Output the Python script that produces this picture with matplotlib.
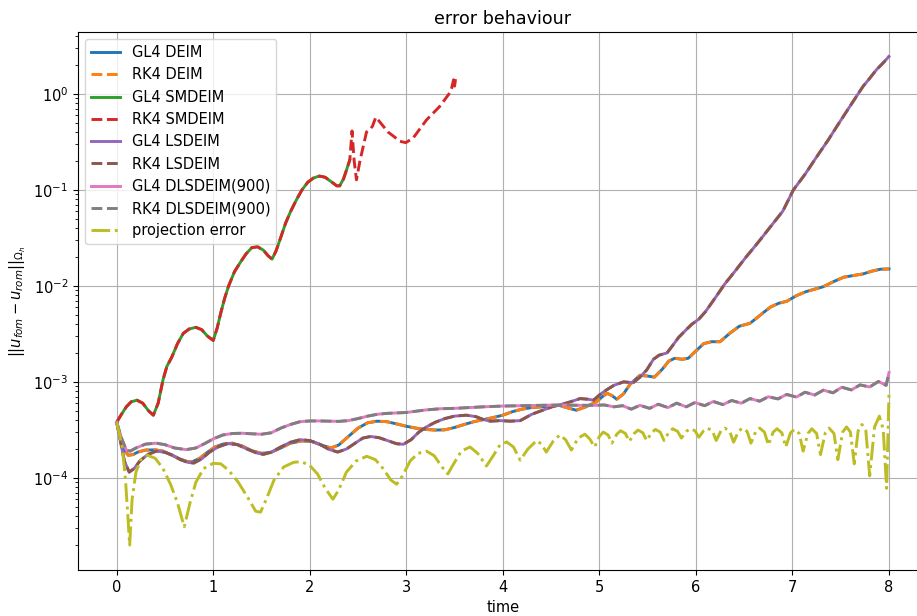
import matplotlib
matplotlib.use("Agg")
from matplotlib import pyplot as plt

# DEIM (GL4 and RK4 agree)
t_deim = [0.00, 0.04, 0.08, 0.12, 0.17, 0.22, 0.30, 0.40, 0.48, 0.56, 0.64, 0.72, 0.78,
          0.86, 0.94, 1.02, 1.10, 1.20, 1.30, 1.40, 1.50, 1.60, 1.70, 1.80, 1.92, 2.02,
          2.12, 2.22, 2.30, 2.40, 2.50, 2.60, 2.70, 2.80, 2.90, 3.00, 3.10, 3.20, 3.30,
          3.40, 3.50, 3.60, 3.70, 3.80, 3.90, 4.00, 4.10, 4.20, 4.30, 4.40, 4.50, 4.58,
          4.66, 4.76, 4.86, 4.97, 5.03, 5.08, 5.13, 5.18, 5.25, 5.32, 5.42, 5.50, 5.57,
          5.65, 5.72, 5.78, 5.86, 5.92, 6.00, 6.08, 6.16, 6.25, 6.35, 6.45, 6.56, 6.66,
          6.77, 6.86, 6.94, 7.04, 7.14, 7.24, 7.32, 7.42, 7.53, 7.63, 7.73, 7.82, 7.91, 8.00]
e_deim = [3.8e-4, 2.7e-4, 1.95e-4, 1.72e-4, 1.75e-4, 1.86e-4, 1.95e-4, 1.96e-4, 1.9e-4,
          1.75e-4, 1.6e-4, 1.49e-4, 1.47e-4, 1.6e-4, 1.85e-4, 2.1e-4, 2.25e-4, 2.3e-4,
          2.15e-4, 1.92e-4, 1.8e-4, 1.85e-4, 2.05e-4, 2.3e-4, 2.43e-4, 2.4e-4, 2.2e-4,
          2.05e-4, 2.2e-4, 2.7e-4, 3.3e-4, 3.75e-4, 3.9e-4, 3.85e-4, 3.65e-4, 3.45e-4,
          3.3e-4, 3.2e-4, 3.15e-4, 3.17e-4, 3.35e-4, 3.6e-4, 3.85e-4, 4.05e-4, 4.25e-4,
          4.5e-4, 4.9e-4, 5.2e-4, 5.4e-4, 5.5e-4, 5.6e-4, 5.7e-4, 5.4e-4, 5.07e-4, 5.5e-4,
          6.2e-4, 7.0e-4, 7.6e-4, 7.2e-4, 6.6e-4, 7.5e-4, 9.5e-4, 1.17e-3, 1.15e-3, 1.12e-3,
          1.35e-3, 1.65e-3, 1.76e-3, 1.72e-3, 1.76e-3, 2.1e-3, 2.5e-3, 2.62e-3, 2.62e-3,
          3.2e-3, 3.8e-3, 4.07e-3, 4.9e-3, 6.0e-3, 6.6e-3, 6.9e-3, 7.9e-3, 8.7e-3, 9.3e-3,
          9.8e-3, 1.1e-2, 1.23e-2, 1.28e-2, 1.33e-2, 1.42e-2, 1.49e-2, 1.5e-2]

# SMDEIM (GL4 stops at t ~ 2.41, RK4 runs on to 3.5)
t_smdeim = [0.00, 0.05, 0.10, 0.15, 0.21, 0.27, 0.33, 0.38, 0.43, 0.48, 0.52, 0.57, 0.63,
            0.69, 0.75, 0.82, 0.88, 0.94, 1.00, 1.04, 1.08, 1.12, 1.16, 1.22, 1.28, 1.34,
            1.40, 1.46, 1.52, 1.57, 1.61, 1.65, 1.70, 1.75, 1.80, 1.86, 1.92, 1.98, 2.04,
            2.10, 2.16, 2.22, 2.28, 2.31, 2.35, 2.38, 2.415, 2.438, 2.46, 2.484, 2.52,
            2.553, 2.588, 2.62, 2.65, 2.684, 2.725, 2.81, 2.87, 2.933, 2.995, 3.07, 3.21,
            3.347, 3.45, 3.47, 3.49, 3.50, 3.51]
e_smdeim = [3.8e-4, 4.6e-4, 5.5e-4, 6.2e-4, 6.45e-4, 6.0e-4, 5.0e-4, 4.5e-4, 6.0e-4,
            1.05e-3, 1.45e-3, 1.8e-3, 2.5e-3, 3.2e-3, 3.55e-3, 3.7e-3, 3.5e-3, 3.0e-3,
            2.7e-3, 3.6e-3, 5.3e-3, 7.5e-3, 1.0e-2, 1.4e-2, 1.75e-2, 2.15e-2, 2.5e-2,
            2.55e-2, 2.35e-2, 2.05e-2, 1.9e-2, 2.3e-2, 3.2e-2, 4.5e-2, 5.9e-2, 7.8e-2,
            1.0e-1, 1.2e-1, 1.33e-1, 1.39e-1, 1.35e-1, 1.22e-1, 1.1e-1, 1.1e-1, 1.3e-1,
            1.6e-1, 2.05e-1, 4.1e-1, 2.0e-1, 1.27e-1, 2.0e-1, 2.8e-1, 4.0e-1, 4.2e-1,
            4.6e-1, 5.7e-1, 5.1e-1, 4.0e-1, 3.6e-1, 3.2e-1, 3.1e-1, 3.45e-1, 5.35e-1,
            7.4e-1, 1.02, 1.15, 1.4, 1.2, 1.42]
n_gl4_smdeim = 47

# LSDEIM (GL4 and RK4 agree)
t_lsdeim = [0.00, 0.04, 0.08, 0.13, 0.18, 0.24, 0.32, 0.41, 0.50, 0.58, 0.66, 0.74, 0.80,
            0.88, 0.96, 1.05, 1.15, 1.25, 1.35, 1.45, 1.52, 1.60, 1.70, 1.80, 1.90, 2.00,
            2.10, 2.20, 2.29, 2.38, 2.47, 2.55, 2.63, 2.72, 2.82, 2.90, 2.97, 3.05, 3.13,
            3.21, 3.30, 3.40, 3.50, 3.62, 3.72, 3.80, 3.87, 3.97, 4.08, 4.18, 4.30, 4.42,
            4.52, 4.59, 4.70, 4.80, 4.88, 4.94, 5.00, 5.07, 5.15, 5.25, 5.35, 5.42, 5.49,
            5.56, 5.62, 5.70, 5.76, 5.82, 5.90, 5.96, 6.03, 6.10, 6.20, 6.30, 6.40, 6.52,
            6.64, 6.77, 6.90, 7.01, 7.13, 7.25, 7.37, 7.49, 7.61, 7.73, 7.80, 7.87, 7.94, 8.00]
e_lsdeim = [3.8e-4, 2.4e-4, 1.5e-4, 1.15e-4, 1.25e-4, 1.5e-4, 1.75e-4, 1.9e-4, 1.85e-4,
            1.72e-4, 1.55e-4, 1.45e-4, 1.43e-4, 1.58e-4, 1.85e-4, 2.1e-4, 2.28e-4, 2.22e-4,
            2.0e-4, 1.82e-4, 1.76e-4, 1.85e-4, 2.1e-4, 2.35e-4, 2.5e-4, 2.45e-4, 2.25e-4,
            1.98e-4, 1.86e-4, 2.0e-4, 2.3e-4, 2.6e-4, 2.7e-4, 2.62e-4, 2.42e-4, 2.27e-4,
            2.24e-4, 2.5e-4, 3.0e-4, 3.4e-4, 3.8e-4, 4.15e-4, 4.4e-4, 4.5e-4, 4.35e-4,
            4.05e-4, 3.9e-4, 3.95e-4, 3.9e-4, 3.95e-4, 4.6e-4, 5.1e-4, 5.55e-4, 5.75e-4,
            6.2e-4, 6.7e-4, 6.6e-4, 6.45e-4, 7.3e-4, 8.2e-4, 9.2e-4, 1.0e-3, 9.8e-4, 1.12e-3,
            1.33e-3, 1.72e-3, 1.9e-3, 2.0e-3, 2.4e-3, 2.9e-3, 3.5e-3, 4.0e-3, 4.5e-3, 5.4e-3,
            7.5e-3, 1.05e-2, 1.4e-2, 2.0e-2, 2.8e-2, 4.1e-2, 6.0e-2, 0.1, 0.145, 0.22, 0.33,
            0.51, 0.78, 1.19, 1.45, 1.78, 2.1, 2.45]

# DLSDEIM(900) (GL4 and RK4 agree)
t_dlsdeim = [0.00, 0.05, 0.10, 0.14, 0.20, 0.30, 0.41, 0.50, 0.60, 0.72, 0.82, 0.92, 1.00,
             1.10, 1.20, 1.30, 1.40, 1.50, 1.60, 1.70, 1.80, 1.90, 2.00, 2.10, 2.20, 2.30,
             2.40, 2.50, 2.60, 2.70, 2.80, 2.90, 3.00, 3.10, 3.20, 3.35, 3.50, 3.65, 3.80,
             3.90, 4.00, 4.20, 4.40, 4.60, 4.80, 4.95, 5.05, 5.15, 5.24, 5.33, 5.42, 5.52,
             5.61, 5.71, 5.80, 5.90, 5.99, 6.09, 6.18, 6.28, 6.37, 6.47, 6.56, 6.66, 6.75,
             6.85, 6.94, 7.04, 7.13, 7.23, 7.32, 7.42, 7.51, 7.61, 7.70, 7.80, 7.89, 7.97, 8.00]
e_dlsdeim = [3.8e-4, 2.6e-4, 1.95e-4, 1.9e-4, 2.05e-4, 2.25e-4, 2.3e-4, 2.22e-4, 2.05e-4,
             1.97e-4, 2.05e-4, 2.3e-4, 2.55e-4, 2.8e-4, 2.9e-4, 2.92e-4, 2.88e-4, 2.85e-4,
             2.95e-4, 3.3e-4, 3.6e-4, 3.85e-4, 3.92e-4, 3.92e-4, 3.9e-4, 3.88e-4, 3.95e-4,
             4.15e-4, 4.4e-4, 4.6e-4, 4.7e-4, 4.75e-4, 4.8e-4, 4.95e-4, 5.1e-4, 5.25e-4,
             5.3e-4, 5.4e-4, 5.5e-4, 5.55e-4, 5.6e-4, 5.65e-4, 5.7e-4, 5.75e-4, 5.7e-4,
             5.7e-4, 5.75e-4, 5.5e-4, 5.65e-4, 5.2e-4, 5.7e-4, 5.3e-4, 5.85e-4, 5.4e-4,
             6.0e-4, 5.5e-4, 6.1e-4, 5.65e-4, 6.25e-4, 5.8e-4, 6.4e-4, 6.0e-4, 6.7e-4,
             6.3e-4, 7.0e-4, 6.65e-4, 7.4e-4, 6.95e-4, 7.8e-4, 7.3e-4, 8.2e-4, 7.7e-4,
             8.8e-4, 8.25e-4, 9.3e-4, 8.85e-4, 1.01e-3, 9.2e-4, 1.25e-3]

# projection error
t_proj = [0.00, 0.03, 0.06, 0.09, 0.11, 0.135, 0.16, 0.20, 0.25, 0.32, 0.40, 0.48, 0.56,
          0.63, 0.70, 0.76, 0.82, 0.90, 1.00, 1.08, 1.16, 1.26, 1.36, 1.44, 1.49, 1.55,
          1.63, 1.73, 1.83, 1.91, 2.00, 2.08, 2.16, 2.24, 2.30, 2.38, 2.48, 2.59, 2.68,
          2.76, 2.84, 2.90, 2.96, 3.04, 3.12, 3.21, 3.29, 3.37, 3.43, 3.49, 3.57, 3.66,
          3.74, 3.83, 3.90, 3.97, 4.04, 4.11, 4.18, 4.26, 4.35, 4.40, 4.45, 4.52, 4.59,
          4.65, 4.71, 4.78, 4.85, 4.90, 4.95, 5.00, 5.04, 5.09, 5.13, 5.18, 5.22, 5.27,
          5.31, 5.36, 5.40, 5.45, 5.49, 5.54, 5.58, 5.63, 5.67, 5.72, 5.76, 5.81, 5.85,
          5.90, 5.94, 5.99, 6.03, 6.08, 6.12, 6.17, 6.21, 6.26, 6.30, 6.35, 6.39, 6.44,
          6.48, 6.53, 6.57, 6.62, 6.66, 6.71, 6.75, 6.80, 6.84, 6.89, 6.93, 6.98, 7.02,
          7.07, 7.11, 7.16, 7.20, 7.25, 7.29, 7.34, 7.38, 7.43, 7.47, 7.52, 7.56, 7.60,
          7.64, 7.68, 7.72, 7.76, 7.80, 7.85, 7.90, 7.94, 7.975, 8.00]
e_proj = [3.8e-4, 2.8e-4, 2.0e-4, 1.0e-4, 5.0e-5, 2.0e-5, 6.0e-5, 1.15e-4, 1.55e-4,
          1.72e-4, 1.6e-4, 1.25e-4, 8.5e-5, 5.5e-5, 3.1e-5, 5.5e-5, 9.0e-5, 1.25e-4,
          1.42e-4, 1.4e-4, 1.2e-4, 9.0e-5, 6.2e-5, 4.5e-5, 4.4e-5, 6.0e-5, 9.5e-5, 1.3e-4,
          1.45e-4, 1.48e-4, 1.35e-4, 1.1e-4, 7.8e-5, 6.0e-5, 7.5e-5, 1.15e-4, 1.5e-4,
          1.68e-4, 1.55e-4, 1.25e-4, 9.5e-5, 8.6e-5, 1.05e-4, 1.5e-4, 1.8e-4, 1.9e-4,
          1.7e-4, 1.3e-4, 1.1e-4, 1.4e-4, 1.9e-4, 2.1e-4, 1.8e-4, 1.33e-4, 1.7e-4, 2.2e-4,
          2.37e-4, 2.1e-4, 1.53e-4, 2.0e-4, 2.45e-4, 2.25e-4, 1.86e-4, 2.4e-4, 2.8e-4,
          2.5e-4, 1.95e-4, 2.6e-4, 2.85e-4, 2.55e-4, 2.1e-4, 2.7e-4, 3.0e-4, 2.8e-4,
          2.3e-4, 2.85e-4, 3.1e-4, 2.9e-4, 2.4e-4, 2.9e-4, 3.15e-4, 2.95e-4, 2.45e-4,
          2.95e-4, 3.2e-4, 3.0e-4, 2.45e-4, 3.0e-4, 3.25e-4, 3.05e-4, 2.6e-4, 3.05e-4,
          3.25e-4, 3.1e-4, 2.65e-4, 3.1e-4, 3.3e-4, 3.1e-4, 2.45e-4, 3.1e-4, 3.3e-4,
          3.05e-4, 2.35e-4, 3.05e-4, 3.3e-4, 3.05e-4, 2.3e-4, 3.05e-4, 3.3e-4, 3.0e-4,
          2.2e-4, 3.0e-4, 3.25e-4, 2.95e-4, 2.1e-4, 2.95e-4, 3.2e-4, 2.9e-4, 1.9e-4,
          2.9e-4, 3.25e-4, 2.9e-4, 1.75e-4, 2.95e-4, 3.3e-4, 2.9e-4, 1.55e-4, 3.0e-4,
          3.4e-4, 3.0e-4, 1.4e-4, 3.1e-4, 3.6e-4, 3.1e-4, 1.05e-4, 3.4e-4, 4.4e-4, 3.2e-4,
          7.8e-5, 7.8e-4]

plt.rcParams['font.size'] = 10.5
lw = 2.1

fig = plt.figure(figsize=(9.17, 6.16), dpi=100)
ax = fig.add_axes([0.0851, 0.0747, 0.9265, 0.8734])

ax.semilogy(t_deim, e_deim, '-', lw=lw, label='GL4 DEIM')
ax.semilogy(t_deim, e_deim, '--', lw=lw, label='RK4 DEIM')
ax.semilogy(t_smdeim[:n_gl4_smdeim], e_smdeim[:n_gl4_smdeim], '-', lw=lw, label='GL4 SMDEIM')
ax.semilogy(t_smdeim, e_smdeim, '--', lw=lw, label='RK4 SMDEIM')
ax.semilogy(t_lsdeim, e_lsdeim, '-', lw=lw, label='GL4 LSDEIM')
ax.semilogy(t_lsdeim, e_lsdeim, '--', lw=lw, label='RK4 LSDEIM')
ax.semilogy(t_dlsdeim, e_dlsdeim, '-', lw=lw, label='GL4 DLSDEIM(900)')
ax.semilogy(t_dlsdeim, e_dlsdeim, '--', lw=lw, label='RK4 DLSDEIM(900)')
ax.semilogy(t_proj, e_proj, '-.', lw=lw, label='projection error')

ax.set_xlim(-0.4, 8.4)
ax.set_ylim(1.1e-5, 4.4)
ax.set_xticks(range(9))
ax.grid(True)
ax.legend(loc='upper left')
ax.set_title('error behaviour')
ax.set_xlabel('time')
ax.set_ylabel(r'$||u_{fom}-u_{rom}||_{\Omega_h}$')

fig.savefig('out.png', dpi=100)
